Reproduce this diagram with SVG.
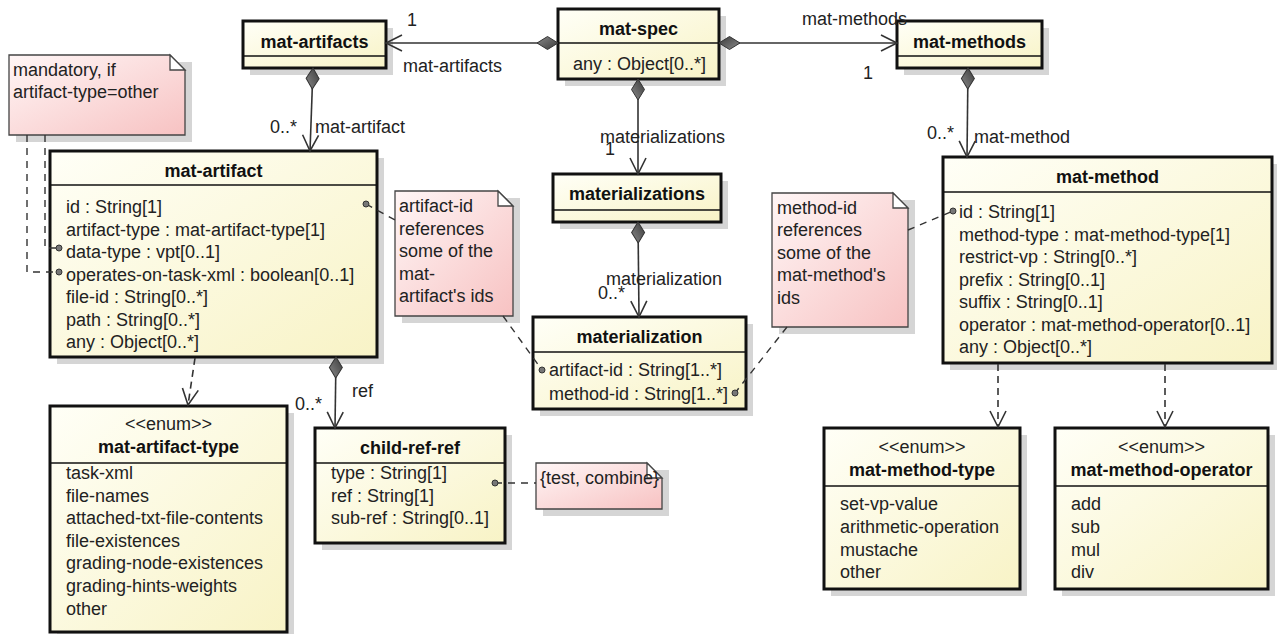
<svg xmlns="http://www.w3.org/2000/svg" width="1277" height="634" viewBox="0 0 1277 634">
  <defs>
    <linearGradient id="classFill" x1="0" y1="0" x2="1" y2="1">
      <stop offset="0" stop-color="#fffff7"/>
      <stop offset="1" stop-color="#f8f3c6"/>
    </linearGradient>
    <linearGradient id="noteFill" x1="0" y1="0" x2="1" y2="1">
      <stop offset="0" stop-color="#fff6f6"/>
      <stop offset="1" stop-color="#f7c2c2"/>
    </linearGradient>
    <linearGradient id="diamondFill" x1="0" y1="0" x2="1" y2="1">
      <stop offset="0" stop-color="#3a3a3a"/>
      <stop offset="1" stop-color="#8a8a8a"/>
    </linearGradient>
    <!-- filled diamond at the owning end of a composition -->
    <marker id="diamond" markerUnits="userSpaceOnUse" orient="auto" refX="0" refY="0" overflow="visible">
      <path d="M0,0 L10.5,-6.5 L21,0 L10.5,6.5 Z" fill="url(#diamondFill)" stroke="#333" stroke-width="1"/>
    </marker>
    <!-- open arrowhead -->
    <marker id="open" markerUnits="userSpaceOnUse" orient="auto" refX="0" refY="0" overflow="visible">
      <path d="M-16,-8 L0,0 L-16,8" fill="none" stroke="#333" stroke-width="1.6"/>
    </marker>
    <!-- anchor dot where a note line meets an attribute -->
    <circle id="dot" r="3" fill="#777" stroke="#333" stroke-width="1"/>
  </defs>
  <style>
    text { font-family: "Liberation Sans", Arial, sans-serif; font-size: 18px; fill: #222; }
    .title { font-weight: bold; text-anchor: middle; fill: #111; }
    .stereo { text-anchor: middle; }
    .shadow { fill: #d5d5d5; }
    .box { fill: url(#classFill); stroke: #111; stroke-width: 3; }
    .div { stroke: #111; stroke-width: 1.5; }
    .note { fill: url(#noteFill); stroke: #444; stroke-width: 1.3; }
    .fold { fill: #fff; stroke: #444; stroke-width: 1.3; }
    .assoc { fill: none; stroke: #333; stroke-width: 1.6; }
    .comp { marker-start: url(#diamond); marker-end: url(#open); }
    .dep { fill: none; stroke: #333; stroke-width: 1.6; stroke-dasharray: 7 5; marker-end: url(#open); }
    .anchor { fill: none; stroke: #333; stroke-width: 1.4; stroke-dasharray: 7 6; }
  </style>

  <!-- notes -->
  <g id="note-mandatory">
    <rect class="shadow" x="16" y="62" width="176" height="80"/>
    <path class="note" d="M9,55 H170 L185,70 V135 H9 Z"/>
    <path class="fold" d="M170,55 V70 H185 Z"/>
    <text x="13" y="76">mandatory, if</text>
    <text x="13" y="98">artifact-type=other</text>
  </g>
  <g id="note-artifact-id">
    <rect class="shadow" x="402" y="198" width="118" height="125"/>
    <path class="note" d="M395,191 H498 L513,206 V316 H395 Z"/>
    <path class="fold" d="M498,191 V206 H513 Z"/>
    <text x="399" y="212">artifact-id</text>
    <text x="399" y="235">references</text>
    <text x="399" y="257">some of the</text>
    <text x="399" y="280">mat-</text>
    <text x="399" y="302">artifact's ids</text>
  </g>
  <g id="note-method-id">
    <rect class="shadow" x="779" y="200" width="136" height="134"/>
    <path class="note" d="M772,193 H893 L908,208 V327 H772 Z"/>
    <path class="fold" d="M893,193 V208 H908 Z"/>
    <text x="777" y="214">method-id</text>
    <text x="777" y="236">references</text>
    <text x="777" y="259">some of the</text>
    <text x="777" y="281">mat-method's</text>
    <text x="777" y="304">ids</text>
  </g>
  <g id="note-type-values">
    <rect class="shadow" x="543" y="470" width="126" height="46"/>
    <path class="note" d="M536,463 H647 L662,478 V509 H536 Z"/>
    <path class="fold" d="M647,463 V478 H662 Z"/>
    <text x="540" y="484">{test, combine}</text>
  </g>

  <!-- classes -->
  <g id="mat-spec">
    <rect class="shadow" x="565" y="16" width="161" height="70"/>
    <rect class="box" x="558" y="9" width="161" height="70"/>
    <line class="div" x1="558" y1="43" x2="719" y2="43"/>
    <text class="title" x="638.5" y="35">mat-spec</text>
    <text x="573" y="70">any : Object[0..*]</text>
  </g>
  <g id="mat-artifacts">
    <rect class="shadow" x="250" y="28" width="143" height="47"/>
    <rect class="box" x="243" y="21" width="143" height="47"/>
    <line class="div" x1="243" y1="56" x2="386" y2="56"/>
    <text class="title" x="314.5" y="48">mat-artifacts</text>
  </g>
  <g id="mat-methods">
    <rect class="shadow" x="904" y="28" width="145" height="47"/>
    <rect class="box" x="897" y="21" width="145" height="47"/>
    <line class="div" x1="897" y1="56" x2="1042" y2="56"/>
    <text class="title" x="969.5" y="48">mat-methods</text>
  </g>
  <g id="mat-artifact">
    <rect class="shadow" x="57" y="158" width="327" height="206"/>
    <rect class="box" x="50" y="151" width="327" height="206"/>
    <line class="div" x1="50" y1="185" x2="377" y2="185"/>
    <text class="title" x="213.5" y="177">mat-artifact</text>
    <text x="66" y="213">id : String[1]</text>
    <text x="66" y="235.5">artifact-type : mat-artifact-type[1]</text>
    <text x="66" y="258">data-type : vpt[0..1]</text>
    <text x="66" y="280.5">operates-on-task-xml : boolean[0..1]</text>
    <text x="66" y="303">file-id : String[0..*]</text>
    <text x="66" y="325.5">path : String[0..*]</text>
    <text x="66" y="348">any : Object[0..*]</text>
  </g>
  <g id="materializations">
    <rect class="shadow" x="560" y="181" width="168" height="48"/>
    <rect class="box" x="553" y="174" width="168" height="48"/>
    <line class="div" x1="553" y1="210" x2="721" y2="210"/>
    <text class="title" x="637" y="200">materializations</text>
  </g>
  <g id="materialization">
    <rect class="shadow" x="540" y="324" width="213" height="92"/>
    <rect class="box" x="533" y="317" width="213" height="92"/>
    <line class="div" x1="533" y1="352" x2="746" y2="352"/>
    <text class="title" x="639.5" y="343">materialization</text>
    <text x="549" y="376">artifact-id : String[1..*]</text>
    <text x="549" y="400">method-id : String[1..*]</text>
  </g>
  <g id="mat-method">
    <rect class="shadow" x="950" y="164" width="329" height="206"/>
    <rect class="box" x="943" y="157" width="329" height="206"/>
    <line class="div" x1="943" y1="192" x2="1272" y2="192"/>
    <text class="title" x="1107.5" y="183">mat-method</text>
    <text x="959" y="218">id : String[1]</text>
    <text x="959" y="240.5">method-type : mat-method-type[1]</text>
    <text x="959" y="263">restrict-vp : String[0..*]</text>
    <text x="959" y="285.5">prefix : String[0..1]</text>
    <text x="959" y="308">suffix : String[0..1]</text>
    <text x="959" y="330.5">operator : mat-method-operator[0..1]</text>
    <text x="959" y="353">any : Object[0..*]</text>
  </g>
  <g id="mat-artifact-type">
    <rect class="shadow" x="57" y="413" width="237" height="226"/>
    <rect class="box" x="50" y="406" width="237" height="226"/>
    <line class="div" x1="50" y1="463" x2="287" y2="463"/>
    <text class="stereo" x="168.5" y="430">&lt;&lt;enum&gt;&gt;</text>
    <text class="title" x="168.5" y="453">mat-artifact-type</text>
    <text x="66" y="479">task-xml</text>
    <text x="66" y="502">file-names</text>
    <text x="66" y="524">attached-txt-file-contents</text>
    <text x="66" y="547">file-existences</text>
    <text x="66" y="569">grading-node-existences</text>
    <text x="66" y="592">grading-hints-weights</text>
    <text x="66" y="615">other</text>
  </g>
  <g id="child-ref-ref">
    <rect class="shadow" x="322" y="435" width="190" height="115"/>
    <rect class="box" x="315" y="428" width="190" height="115"/>
    <line class="div" x1="315" y1="463" x2="505" y2="463"/>
    <text class="title" x="410" y="454">child-ref-ref</text>
    <text x="331" y="479">type : String[1]</text>
    <text x="331" y="502">ref : String[1]</text>
    <text x="331" y="524">sub-ref : String[0..1]</text>
  </g>
  <g id="mat-method-type">
    <rect class="shadow" x="831" y="435" width="196" height="161"/>
    <rect class="box" x="824" y="428" width="196" height="161"/>
    <line class="div" x1="824" y1="486" x2="1020" y2="486"/>
    <text class="stereo" x="922" y="453">&lt;&lt;enum&gt;&gt;</text>
    <text class="title" x="922" y="476">mat-method-type</text>
    <text x="840" y="510">set-vp-value</text>
    <text x="840" y="533">arithmetic-operation</text>
    <text x="840" y="556">mustache</text>
    <text x="840" y="578">other</text>
  </g>
  <g id="mat-method-operator">
    <rect class="shadow" x="1062" y="435" width="213" height="161"/>
    <rect class="box" x="1055" y="428" width="213" height="161"/>
    <line class="div" x1="1055" y1="486" x2="1268" y2="486"/>
    <text class="stereo" x="1161.5" y="453">&lt;&lt;enum&gt;&gt;</text>
    <text class="title" x="1161.5" y="476">mat-method-operator</text>
    <text x="1071" y="510">add</text>
    <text x="1071" y="533">sub</text>
    <text x="1071" y="556">mul</text>
    <text x="1071" y="578">div</text>
  </g>

  <!-- connectors, drawn over the boxes so anchor dots stay visible -->
  <g id="connectors">
    <path class="assoc comp" d="M558,43 H386"/>
    <path class="assoc comp" d="M719,43 H897"/>
    <path class="assoc comp" d="M638,79 V174"/>
    <path class="assoc comp" d="M313,68 L310,151"/>
    <path class="assoc comp" d="M968,68 L967,157"/>
    <path class="assoc comp" d="M638,222 L639,317"/>
    <path class="assoc comp" d="M336,357 L335,428"/>
    <path class="dep" d="M195,358 L188,405"/>
    <path class="dep" d="M998,364 V427"/>
    <path class="dep" d="M1165,364 V427"/>
    <path class="anchor" d="M27,135 V272 H59"/>
    <path class="anchor" d="M45,135 V248 H59"/>
    <path class="anchor" d="M366,204 L395,220"/>
    <path class="anchor" d="M503,316 L542,370"/>
    <path class="anchor" d="M908,230 L953,211"/>
    <path class="anchor" d="M787,327 L735,393"/>
    <path class="anchor" d="M495,483 H536"/>
    <use href="#dot" x="59" y="248"/>
    <use href="#dot" x="59" y="272"/>
    <use href="#dot" x="366" y="204"/>
    <use href="#dot" x="542" y="370"/>
    <use href="#dot" x="953" y="211"/>
    <use href="#dot" x="735" y="393"/>
    <use href="#dot" x="495" y="483"/>
    <text x="407" y="26">1</text>
    <text x="403" y="72">mat-artifacts</text>
    <text x="802" y="25">mat-methods</text>
    <text x="863" y="79">1</text>
    <text x="270" y="133">0..*</text>
    <text x="315" y="133">mat-artifact</text>
    <text x="600" y="143">materializations</text>
    <text x="605" y="155">1</text>
    <text x="927" y="139">0..*</text>
    <text x="974" y="143">mat-method</text>
    <text x="606" y="285">materialization</text>
    <text x="598" y="299">0..*</text>
    <text x="352" y="397">ref</text>
    <text x="295" y="410">0..*</text>
  </g>
</svg>
